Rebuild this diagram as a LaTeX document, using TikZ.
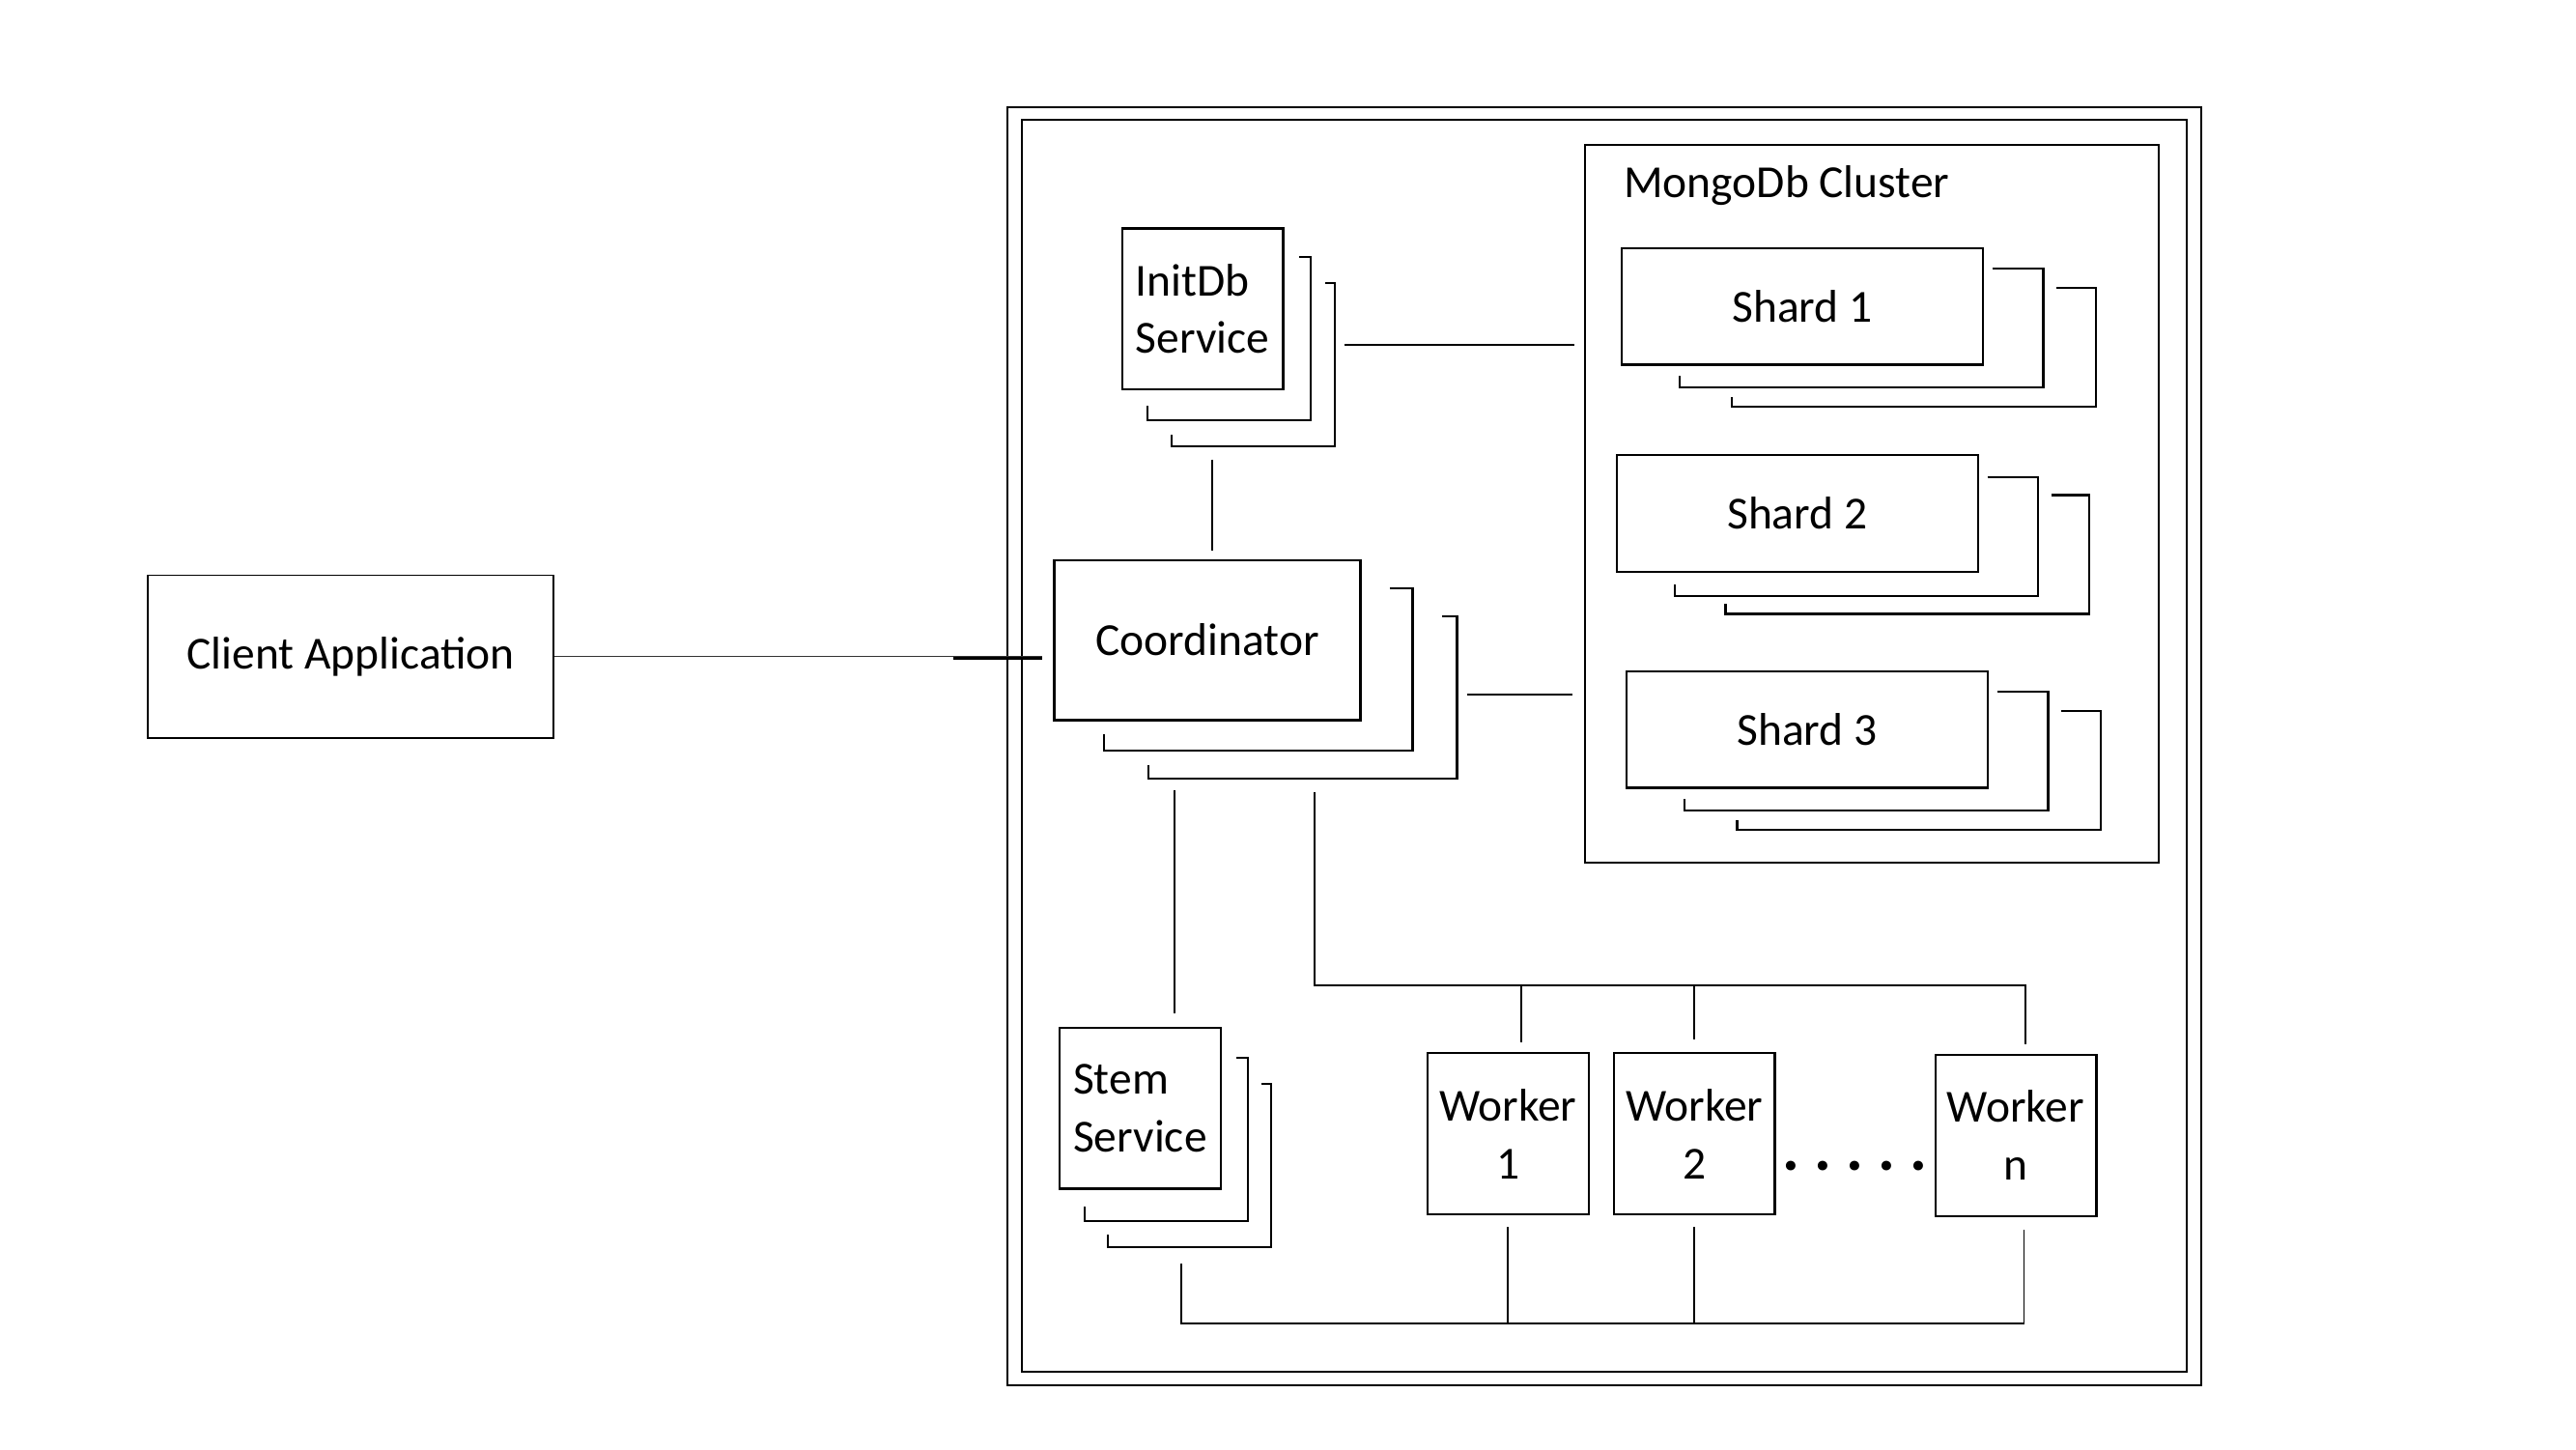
\documentclass[tikz,border=0pt]{standalone}
\usepackage{fontspec}
\setmainfont{Carlito}
\usetikzlibrary{positioning}

% one partly hidden copy behind a box: node, dx, dy, top tick, left tick
\newcommand{\backlayer}[5]{%
  \draw[layer] ([shift={(#2-#4,#3)}]#1.north east) -- ++(#4,0)
    |- ([shift={(#2,#3)}]#1.south west) -- ++(0,-#5);}

\begin{document}
\begin{tikzpicture}[x=0.017cm,y=-0.017cm,font=\fontsize{13.5}{17}\selectfont,
  box/.style={draw,line width=0.65pt,inner sep=0pt},
  service/.style={box,align=left,minimum width=1.666cm,minimum height=1.666cm},
  worker/.style={box,align=center,minimum width=1.666cm,minimum height=1.666cm},
  shard/.style={box,minimum width=3.74cm,minimum height=1.207cm},
  layer/.style={line width=0.65pt},
  conn/.style={line width=0.55pt}]

  \useasboundingbox (0,0) rectangle (1568,882);

  % frames
  \draw[line width=0.55pt] (613,65) rectangle (1340,843);
  \draw[line width=0.6pt] (622,73) rectangle (1331,835);

  \node[box,line width=0.45pt,minimum width=4.199cm,minimum height=1.683cm] (client) at (213.5,399.5) {Client Application};
  \node[service] (initdb) at (732,188) {InitDb\\Service};
  \node[box,line width=0.85pt,minimum width=3.162cm,minimum height=1.649cm] (coord) at (735,389.5) {Coordinator};
  \node[service] (stem) at (694,674.5) {Stem\\Service};
  \node[box,line width=0.55pt,minimum width=5.933cm,minimum height=7.429cm] (mongo) at (1139.5,306.5) {};
  \node[anchor=base west,inner sep=0pt] (mongolabel) at (988,120) {MongoDb Cluster};
  \node[shard] (shard1) at (1097,186.5) {Shard 1};
  \node[shard] (shard2) at (1094,312.5) {Shard 2};
  \node[shard] (shard3) at (1100,444) {Shard 3};
  \node[worker] (w1) at (918,690) {Worker\\1};
  \node[worker,right=0.238cm of w1] (w2) {Worker\\2};
  \node[worker] (wn) at (1227,691) {Worker\\n};
  \node[anchor=base,font=\fontsize{19}{19}\selectfont\bfseries] (dots) at (1129,712) {.\kern4.3pt.\kern4.3pt.\kern4.3pt.\kern4.3pt.};

  % stacked copies
  \backlayer{initdb}{16}{18}{7}{9}
  \backlayer{initdb}{31}{34}{6}{7}
  \backlayer{coord}{31}{18}{14}{10}
  \backlayer{coord}{58}{35}{9}{8}
  \backlayer{shard1}{36}{13}{31}{7}
  \backlayer{shard1}{68}{25}{24}{6}
  \backlayer{shard2}{36}{14}{31}{7}
  \backlayer{shard2}{67}{25}{23}{6}
  \backlayer{shard3}{36}{13}{31}{7}
  \backlayer{shard3}{68}{25}{24}{6}
  \backlayer{stem}{16}{19}{7}{9}
  \backlayer{stem}{30}{35}{6}{8}

  % connectors
  \draw[conn,draw=black!80] (client.east) -- ([shift={(-7,0)}]client.east -| coord.west);
  \draw[line width=0.85pt] ([shift={(-61,1)}]client.east -| coord.west) -- ([shift={(-7,1)}]client.east -| coord.west);
  \draw[conn] ([shift={(6,42)}]initdb.south) -- ([shift={(3,-5)}]coord.north);
  \draw[conn] ([shift={(37,22)}]initdb.east) -- ([shift={(-6,22)}]initdb.east -| mongo.west);
  \draw[conn] ([shift={(64,33)}]coord.east) -- ([shift={(-7,33)}]coord.east -| mongo.west);
  \draw[conn] ([shift={(-20,42)}]coord.south) -- ([shift={(21,-8)}]stem.north);

  \coordinate (topbus) at ([shift={(65,161)}]coord.south);
  \draw[conn] ([shift={(65,43)}]coord.south) -- (topbus) -| ([shift={(6,-6)}]wn.north);
  \draw[conn] ([shift={(8,-6)}]w1.north) -- ([shift={(8,0)}]topbus -| w1.north);
  \draw[conn] ([shift={(0,-8)}]w2.north) -- (topbus -| w2.north);

  \coordinate (botbus) at ([shift={(0,66)}]w1.south);
  \draw[conn] ([shift={(25,45)}]stem.south) |- ([shift={(5,0)}]botbus -| wn.south) -- ([shift={(5,8)}]wn.south);
  \draw[conn] ([shift={(0,7)}]w1.south) -- (botbus);
  \draw[conn] ([shift={(0,7)}]w2.south) -- (botbus -| w2.south);
\end{tikzpicture}
\end{document}
